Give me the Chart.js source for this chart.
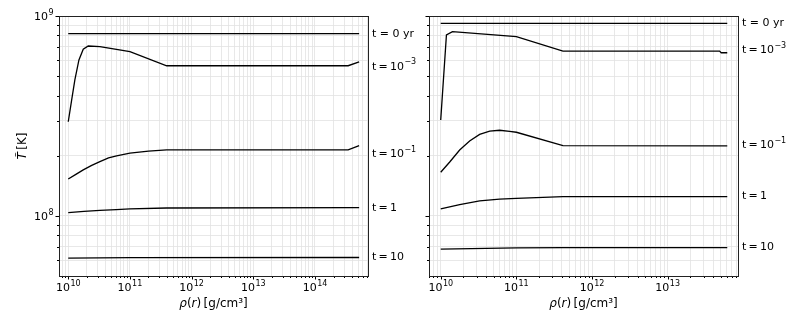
<!DOCTYPE html>
<html><head><meta charset="utf-8">
<script src="https://cdn.jsdelivr.net/npm/chart.js@4.4.1/dist/chart.umd.min.js"></script>
<style>
html,body{margin:0;padding:0;background:#fff;}
#wrap{position:relative;width:797px;height:332px;overflow:hidden;background:#fff}
canvas{position:absolute;top:0}
</style></head><body>
<div id="wrap">
<canvas id="cl" width="440" height="332" style="left:0px;width:440px;height:332px"></canvas>
<canvas id="cr" width="397" height="332" style="left:400px;width:397px;height:332px"></canvas>
</div>
<script>
// ---------- data ----------
const curveLabels = ['t = 0 yr', 't=10^-3', 't=10^-1', 't=1', 't=10'];
const leftLabelT  = [8.16e8, 5.58e8, 2.03e8, 1.10e8, 6.24e7];
const rightLabelT = [9.19e8, 6.76e8, 2.26e8, 1.26e8, 7.02e7];

// left panel
const L0_rho = [1e10, 5.2e14];
const L0_T   = [8.16e8, 8.16e8];
const L3_rho = [1e10, 1.135e10, 1.28e10, 1.49e10, 1.75e10, 2.11e10, 3.26e10, 1e11, 3.94e11, 3.45e14, 5.2e14];
const L3_T   = [2.96e8, 3.8e8, 4.79e8, 6.03e8, 6.82e8, 7.08e8, 7.03e8, 6.63e8, 5.64e8, 5.64e8, 5.89e8];
const L1_rho = [1e10, 1.35e10, 1.75e10, 2.4e10, 3.26e10, 4.5e10, 6.08e10, 1e11, 2e11, 3.94e11, 3.45e14, 5.2e14];
const L1_T   = [1.53e8, 1.62e8, 1.70e8, 1.79e8, 1.87e8, 1.95e8, 2.0e8, 2.06e8, 2.11e8, 2.14e8, 2.14e8, 2.25e8];
const Lone_rho = [1e10, 1.8e10, 3.26e10, 6e10, 1e11, 3.94e11, 5.2e14];
const Lone_T   = [1.04e8, 1.055e8, 1.067e8, 1.077e8, 1.084e8, 1.096e8, 1.10e8];
const L10_rho = [1e10, 1e11, 5.2e14];
const L10_T   = [6.15e7, 6.19e7, 6.2e7];

// right panel
const R0_rho = [1e10, 6.13e13];
const R0_T   = [9.19e8, 9.19e8];
const R3_rho = [1e10, 1.19e10, 1.43e10, 1e11, 4.13e11, 4.85e13, 5.1e13, 6.13e13];
const R3_T   = [3.02e8, 8.04e8, 8.35e8, 7.88e8, 6.68e8, 6.68e8, 6.55e8, 6.55e8];
const R1_rho = [1e10, 1.315e10, 1.78e10, 2.41e10, 3.27e10, 4.44e10, 6.0e10, 8.15e10, 1e11, 4.13e11, 6.13e13];
const R1_T   = [1.654e8, 1.862e8, 2.138e8, 2.371e8, 2.56e8, 2.655e8, 2.683e8, 2.646e8, 2.622e8, 2.25e8, 2.24e8];
const Rone_rho = [1e10, 1.78e10, 3.27e10, 6e10, 1e11, 4.13e11, 6.13e13];
const Rone_T   = [1.084e8, 1.14e8, 1.19e8, 1.215e8, 1.226e8, 1.249e8, 1.249e8];
const R10_rho = [1e10, 1e11, 4.13e11, 6.13e13];
const R10_T   = [6.82e7, 6.92e7, 6.94e7, 6.94e7];

// axis ranges
const leftRhoRange  = [7.08e9, 7.24e14];
const rightRhoRange = [7.0e9, 8.5e13];
const TRange = [5.01e7, 1e9];

// ---------- helpers ----------
const FONT = "'DejaVu Sans', 'Liberation Sans', sans-serif";
const isPow10 = v => Math.abs(Math.log10(v) - Math.round(Math.log10(v))) < 1e-6;
function logTicks(min, max) {
  const out = [];
  for (let n = Math.floor(Math.log10(min)); n <= Math.ceil(Math.log10(max)); n++) {
    for (let k = 1; k <= 9; k++) {
      const v = k * Math.pow(10, n);
      if (v >= min * 0.9999 && v <= max * 1.0001) out.push(v);
    }
  }
  return out;
}
const pts = (xs, ys) => xs.map((x, i) => ({x: x, y: ys[i]}));

function drawMixed(ctx, parts, size) {
  const widths = parts.map(p => { ctx.font = (p.i ? 'italic ' : '') + size + 'px ' + FONT; return ctx.measureText(p.t).width; });
  const w = widths.reduce((a, b) => a + b, 0);
  let x = -w / 2;
  parts.forEach((p, j) => {
    ctx.font = (p.i ? 'italic ' : '') + size + 'px ' + FONT;
    ctx.fillText(p.t, x, 0);
    x += widths[j];
  });
}

// power-of-ten label: base "10" + raised exponent; align: 'center' | 'right'
function drawPow(ctx, exp, x, y, align) {
  const e = String(exp);
  ctx.textBaseline = 'alphabetic';
  ctx.textAlign = 'left';
  ctx.font = '11px ' + FONT;
  const bw = ctx.measureText('10').width;
  ctx.font = '8px ' + FONT;
  const ew = ctx.measureText(e).width;
  const tw = bw + ew + 0.5;
  const x0 = align === 'center' ? x - tw / 2 : x - tw;
  ctx.font = '11px ' + FONT;
  ctx.fillText('10', x0, y);
  ctx.font = '8px ' + FONT;
  ctx.fillText(e, x0 + bw + 0.5, y - 4.8);
}

function drawLabel(ctx, text, x, y) {
  const size = 11;
  const m = text.split('^');
  let base = m[0].replace('=', '\u2009=\u2009');
  if (text.indexOf('yr') >= 0) base = text;
  ctx.font = size + 'px ' + FONT;
  ctx.textAlign = 'left';
  ctx.textBaseline = 'middle';
  ctx.fillStyle = '#000';
  ctx.fillText(base, x, y);
  if (m.length > 1) {
    const bw = ctx.measureText(base).width;
    ctx.font = '8px ' + FONT;
    ctx.fillText(m[1].replace('-', '\u2212'), x + bw + 0.5, y - 4.5);
  }
}

function makePlugin(labelT, showY) {
  return {
    id: 'deco',
    afterDraw(chart) {
      const ctx = chart.ctx, a = chart.chartArea;
      const xs = chart.scales.x, ys = chart.scales.y;
      ctx.save();
      // tick marks
      ctx.strokeStyle = '#000';
      ctx.lineWidth = 1;
      ctx.beginPath();
      xs.ticks.forEach(t => {
        const px = Math.round(xs.getPixelForValue(t.value)) + 0.5;
        const len = isPow10(t.value) ? 3.5 : 2;
        ctx.moveTo(px, a.bottom); ctx.lineTo(px, a.bottom + len);
      });
      ys.ticks.forEach(t => {
        const py = Math.round(ys.getPixelForValue(t.value)) + 0.5;
        const len = isPow10(t.value) ? 3.5 : 2;
        ctx.moveTo(a.left, py); ctx.lineTo(a.left - len, py);
      });
      ctx.stroke();
      // frame
      ctx.strokeStyle = '#222';
      ctx.strokeRect(Math.round(a.left) + 0.5, Math.round(a.top) + 0.5, Math.round(a.right - a.left), Math.round(a.bottom - a.top));
      // tick labels
      ctx.fillStyle = '#000';
      xs.ticks.forEach(t => {
        if (isPow10(t.value)) drawPow(ctx, Math.round(Math.log10(t.value)), xs.getPixelForValue(t.value), a.bottom + 15, 'center');
      });
      if (showY) {
        ys.ticks.forEach(t => {
          if (isPow10(t.value)) drawPow(ctx, Math.round(Math.log10(t.value)), a.left - 5.5, ys.getPixelForValue(t.value) + 4, 'right');
        });
      }
      // curve labels
      curveLabels.forEach((lab, i) => drawLabel(ctx, lab, a.right + 4, ys.getPixelForValue(labelT[i])));
      // x title
      ctx.fillStyle = '#000';
      ctx.textBaseline = 'middle';
      ctx.textAlign = 'left';
      ctx.save();
      ctx.translate((a.left + a.right) / 2, 304);
      drawMixed(ctx, [{t:'ρ', i:true}, {t:'(', i:false}, {t:'r', i:true}, {t:')\u2009[g/cm³]', i:false}], 12);
      ctx.restore();
      if (showY) {
        ctx.save();
        ctx.translate(23, (a.top + a.bottom) / 2);
        ctx.rotate(-Math.PI / 2);
        drawMixed(ctx, [{t:'T\u0303', i:true}, {t:'\u2009[K]', i:false}], 12);
        ctx.restore();
      }
      ctx.restore();
    }
  };
}

function makeChart(id, datasets, rhoRange, opts) {
  const lineDs = datasets.map(d => ({
    data: d, borderColor: '#000', borderWidth: 1.3, pointRadius: 0, tension: 0, fill: false
  }));
  return new Chart(document.getElementById(id), {
    type: 'line',
    data: {datasets: lineDs},
    options: {
      responsive: false, animation: false, devicePixelRatio: 1,
      layout: {padding: {left: 0, right: opts.padRight, top: 16, bottom: 0}},
      plugins: {legend: {display: false}, tooltip: {enabled: false}},
      scales: {
        x: {
          type: 'logarithmic', min: rhoRange[0], max: rhoRange[1],
          afterBuildTicks: s => { s.ticks = logTicks(s.min, s.max).map(v => ({value: v})); },
          afterFit: s => { s.height = 56; },
          ticks: {display: false},
          grid: {color: '#e2e2e2', lineWidth: 0.8, drawTicks: false},
          border: {display: false}
        },
        y: {
          type: 'logarithmic', min: TRange[0], max: TRange[1],
          afterBuildTicks: s => { s.ticks = logTicks(s.min, s.max).map(v => ({value: v})); },
          afterFit: s => { s.width = opts.yWidth; },
          ticks: {display: false},
          grid: {color: '#e2e2e2', lineWidth: 0.8, drawTicks: false},
          border: {display: false}
        }
      }
    },
    plugins: [makePlugin(opts.labelT, opts.yTitle)]
  });
}

makeChart('cl', [pts(L0_rho, L0_T), pts(L3_rho, L3_T), pts(L1_rho, L1_T), pts(Lone_rho, Lone_T), pts(L10_rho, L10_T)],
  leftRhoRange, {padRight: 72, yWidth: 59, labelT: leftLabelT, yTitle: true});
makeChart('cr', [pts(R0_rho, R0_T), pts(R3_rho, R3_T), pts(R1_rho, R1_T), pts(Rone_rho, Rone_T), pts(R10_rho, R10_T)],
  rightRhoRange, {padRight: 59, yWidth: 29, labelT: rightLabelT, yTitle: false});
</script>
</body></html>
